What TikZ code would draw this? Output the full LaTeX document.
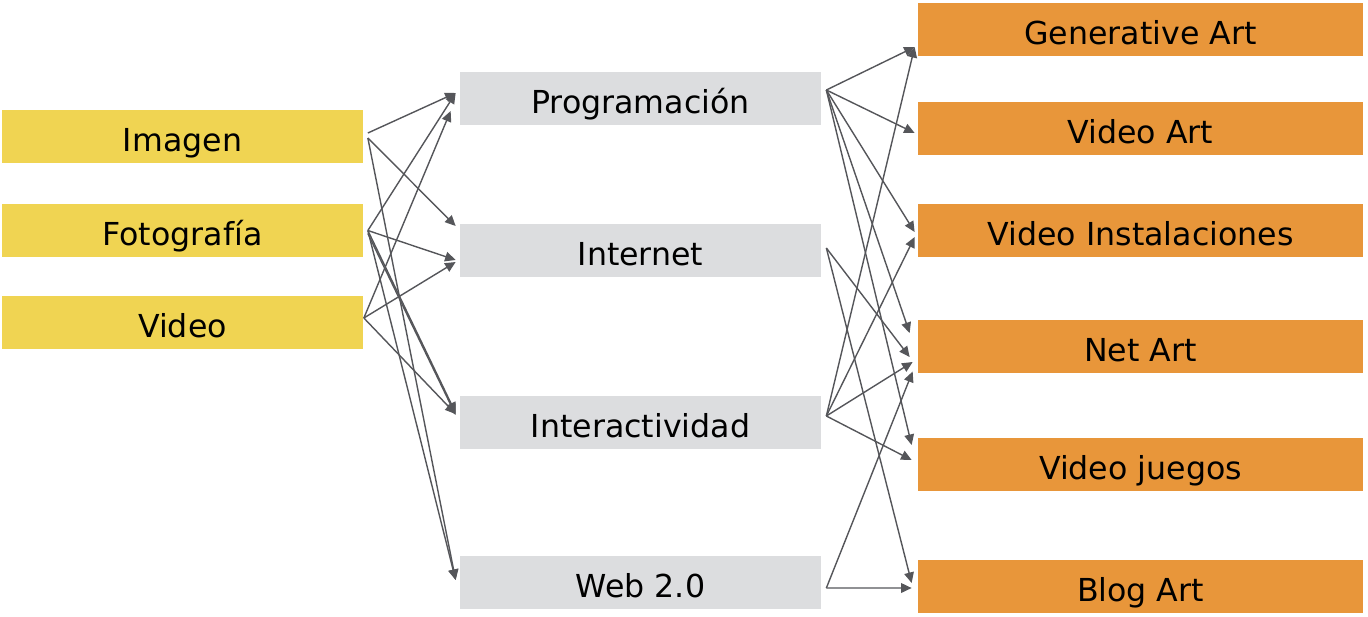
\documentclass[tikz,border=0pt]{standalone}
\usepackage{fontspec}
\setmainfont{DejaVu Sans}
\usetikzlibrary{arrows.meta}
\definecolor{boxyellow}{RGB}{240,212,82}
\definecolor{boxgray}{RGB}{220,221,223}
\definecolor{boxorange}{RGB}{232,150,58}
\definecolor{linkgray}{RGB}{85,86,90}

\begin{document}
\begin{tikzpicture}[>={Triangle[length=6pt,width=5.5pt]}, font=\fontsize{18}{20}\selectfont,
    srcbox/.style={fill=boxyellow, minimum width=7.22cm, minimum height=1.06cm, inner sep=0pt, text height=0.65cm, text depth=0.05cm},
    midbox/.style={fill=boxgray, minimum width=7.22cm, minimum height=1.06cm, inner sep=0pt, text height=0.65cm, text depth=0.05cm},
    outbox/.style={fill=boxorange, minimum width=8.9cm, minimum height=1.06cm, inner sep=0pt, text height=0.65cm, text depth=0.05cm},
    link/.style={->, draw=linkgray, line width=0.8pt}]
    \useasboundingbox (0,0) rectangle (27.36,-12.32);

    % media
    \node[srcbox] (img) at (3.65,-2.73) {Imagen};
    \node[srcbox] (foto) at (3.65,-4.61) {Fotografía};
    \node[srcbox] (vid) at (3.65,-6.45) {Video};

    % medios digitales
    \node[midbox] (prog) at (12.81,-1.97) {Programación};
    \node[midbox] (inet) at (12.81,-5.01) {Internet};
    \node[midbox] (inter) at (12.81,-8.45) {Interactividad};
    \node[midbox] (web) at (12.81,-11.65) {Web 2.0};

    % formas de arte
    \node[outbox] (gen) at (22.81,-0.59) {Generative Art};
    \node[outbox] (vart) at (22.81,-2.57) {Video Art};
    \node[outbox] (vinst) at (22.81,-4.61) {Video Instalaciones};
    \node[outbox] (net) at (22.81,-6.93) {Net Art};
    \node[outbox] (juegos) at (22.81,-9.29) {Video juegos};
    \node[outbox] (blog) at (22.81,-11.73) {Blog Art};

    % media -> medios
    \draw[link] ([xshift=0.09cm,yshift=0.07cm]img.east) -- ([xshift=-0.08cm,yshift=0.11cm]prog.west);
    \draw[link] ([xshift=0.09cm,yshift=-0.03cm]img.east) -- ([xshift=-0.08cm,yshift=0.49cm]inet.west);
    \draw[link] ([xshift=0.09cm,yshift=-0.03cm]img.east) -- ([xshift=-0.08cm,yshift=0.05cm]web.west);
    \draw[link] ([xshift=0.09cm]foto.east) -- ([xshift=-0.08cm,yshift=0.11cm]prog.west);
    \draw[link] ([xshift=0.09cm]foto.east) -- ([xshift=-0.08cm,yshift=-0.19cm]inet.west);
    \draw[link] ([xshift=0.09cm]foto.east) -- ([xshift=-0.08cm,yshift=0.19cm]inter.west);
    \draw[link] ([xshift=0.09cm,yshift=-0.06cm]foto.east) -- ([xshift=-0.08cm,yshift=0.15cm]inter.west);
    \draw[link] ([xshift=0.09cm]foto.east) -- ([xshift=-0.08cm,yshift=0.05cm]web.west);
    \draw[link] ([xshift=0.01cm,yshift=0.09cm]vid.east) -- ([xshift=-0.18cm,yshift=-0.25cm]prog.west);
    \draw[link] ([xshift=0.01cm,yshift=0.09cm]vid.east) -- ([xshift=-0.08cm,yshift=-0.23cm]inet.west);
    \draw[link] ([xshift=0.01cm,yshift=0.09cm]vid.east) -- ([xshift=-0.08cm,yshift=0.17cm]inter.west);

    % medios -> arte
    \draw[link] ([xshift=0.1cm,yshift=0.17cm]prog.east) -- ([xshift=-0.06cm,yshift=-0.35cm]gen.west);
    \draw[link] ([xshift=0.1cm,yshift=0.17cm]prog.east) -- ([xshift=-0.06cm,yshift=-0.09cm]vart.west);
    \draw[link] ([xshift=0.1cm,yshift=0.17cm]prog.east) -- ([xshift=-0.06cm,yshift=-0.03cm]vinst.west);
    \draw[link] ([xshift=0.1cm,yshift=0.17cm]prog.east) -- ([xshift=-0.16cm,yshift=0.27cm]net.west);
    \draw[link] ([xshift=0.1cm,yshift=0.17cm]prog.east) -- ([xshift=-0.12cm,yshift=0.39cm]juegos.west);
    \draw[link] ([xshift=0.1cm,yshift=0.05cm]inet.east) -- ([xshift=-0.16cm,yshift=-0.21cm]net.west);
    \draw[link] ([xshift=0.1cm,yshift=0.05cm]inet.east) -- ([xshift=-0.12cm,yshift=0.07cm]blog.west);
    \draw[link] ([xshift=0.1cm,yshift=0.13cm]inter.east) -- ([xshift=-0.06cm,yshift=-0.35cm]gen.west);
    \draw[link] ([xshift=0.1cm,yshift=0.13cm]inter.east) -- ([xshift=-0.06cm,yshift=-0.13cm]vinst.west);
    \draw[link] ([xshift=0.1cm,yshift=0.13cm]inter.east) -- ([xshift=-0.1cm,yshift=-0.31cm]net.west);
    \draw[link] ([xshift=0.1cm,yshift=0.13cm]inter.east) -- ([xshift=-0.12cm,yshift=0.09cm]juegos.west);
    \draw[link] ([xshift=0.1cm,yshift=-0.11cm]web.east) -- ([xshift=-0.1cm,yshift=-0.5cm]net.west);
    \draw[link] ([xshift=0.1cm,yshift=-0.11cm]web.east) -- ([xshift=-0.12cm,yshift=-0.03cm]blog.west);
\end{tikzpicture}
\end{document}
